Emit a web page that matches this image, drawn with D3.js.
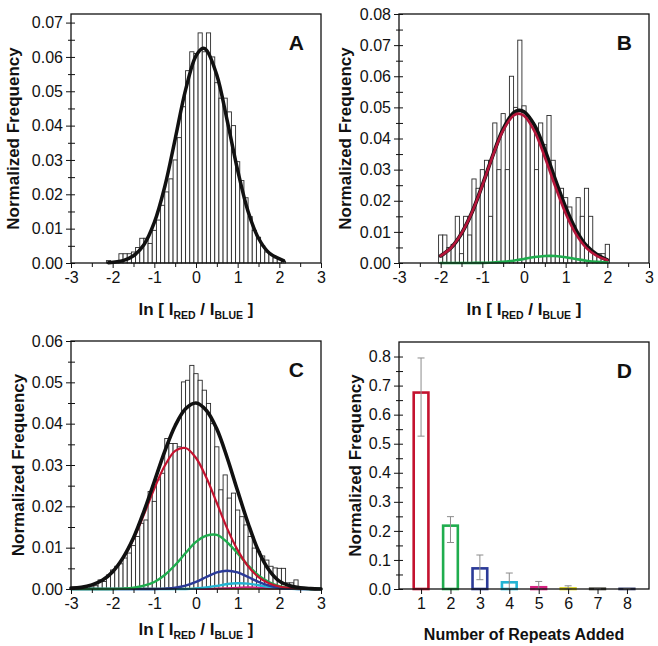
<!DOCTYPE html>
<html>
<head>
<meta charset="utf-8">
<script src="https://cdn.jsdelivr.net/npm/d3@7"></script>
<style>
  body { margin: 0; background: #fff; }
  svg { display: block; font-family: "Liberation Sans", Arial, sans-serif; }
</style>
</head>
<body>
<svg id="fig"></svg>
<script>
// ---- data ----
const binWidth = 0.1;

// panel A histogram, bins centred from -2.1 to 2.1
const binStartA = -2.1;
const freqA = [0.0007, 0.0004, 0.0004, 0.0027, 0.0027, 0.0027, 0.0032, 0.0045, 0.0072, 0.0072,
  0.0057, 0.0095, 0.0125, 0.0168, 0.0207, 0.0245, 0.0300, 0.0365, 0.0455, 0.0560,
  0.0615, 0.0610, 0.0670, 0.0615, 0.0670, 0.0600, 0.0525, 0.0480, 0.0480, 0.0440,
  0.0400, 0.0295, 0.0240, 0.0190, 0.0135, 0.0095, 0.0075, 0.0050, 0.0032, 0.0025,
  0.0015, 0.0010, 0.0005];
const fitXA = [-2.1, -1.75, -1.5, -1.25, -1, -0.75, -0.5, -0.25, 0, 0.17, 0.25, 0.5, 0.75, 1, 1.25, 1.5, 1.75, 2.1];
const fitA = [0.0001, 0.0007, 0.0021, 0.0053, 0.0118, 0.0222, 0.0361, 0.0504, 0.0603, 0.0625,
  0.0620, 0.0547, 0.0414, 0.0270, 0.0150, 0.0072, 0.0030, 0.0007];

// panel B histogram, bins centred from -2.0 to 2.0
const binStartB = -2.0;
const freqB = [0.009, 0.009, 0.005, 0.006, 0.015, 0.003, 0.015, 0.009, 0.027, 0.024,
  0.030, 0.033, 0.015, 0.045, 0.030, 0.048, 0.030, 0.060, 0.050, 0.0716,
  0.0505, 0.047, 0.045, 0.030, 0.045, 0.038, 0.0474, 0.033, 0.024, 0.024,
  0.021, 0.018, 0.012, 0.021, 0.015, 0.024, 0.015, 0.003, 0.003, 0.003, 0.006];
const fitXB = [-2, -1.75, -1.5, -1.25, -1, -0.75, -0.5, -0.25, -0.13, 0, 0.25, 0.5, 0.75, 1, 1.25, 1.5, 1.75, 2];
const fitB = [0.0023, 0.0049, 0.0095, 0.0162, 0.0250, 0.0345, 0.0430, 0.0482, 0.0490, 0.0486,
  0.0443, 0.0363, 0.0268, 0.0178, 0.0105, 0.0055, 0.0027, 0.0010];
const redB = [0.0023, 0.0049, 0.0095, 0.0162, 0.0249, 0.0344, 0.0426, 0.0474, 0.0480, 0.0473,
  0.0424, 0.0340, 0.0246, 0.0159, 0.0092, 0.0048, 0.0023, 0.0009];
const greenB = [0, 0, 0, 0.00002, 0.00005, 0.00015, 0.00036, 0.00075, 0.0010, 0.0013,
  0.0019, 0.00225, 0.00224, 0.00186, 0.00127, 0.00073, 0.00035, 0.00014];

// panel C histogram, bins centred from -2.5 to 2.5
const binStartC = -2.5;
const freqC = [0.0005, 0.0008, 0.0022, 0.0018, 0.0034, 0.0046, 0.0055, 0.0061, 0.0075, 0.0087,
  0.0105, 0.0127, 0.0159, 0.0167, 0.0236, 0.0212, 0.0264, 0.0280, 0.0364, 0.0352,
  0.0352, 0.0344, 0.0501, 0.0505, 0.0541, 0.0521, 0.0505, 0.0481, 0.0449, 0.0400,
  0.0344, 0.0240, 0.0276, 0.0220, 0.0232, 0.0191, 0.0175, 0.0155, 0.0127, 0.0099,
  0.0091, 0.0080, 0.0070, 0.0055, 0.0051, 0.0050, 0.0050, 0.0015, 0.0015, 0.0022, 0.0003];
const fitXC = [-3, -2.75, -2.5, -2.25, -2, -1.75, -1.5, -1.25, -1, -0.75, -0.5, -0.25, 0,
  0.25, 0.5, 0.75, 1, 1.25, 1.5, 1.75, 2, 2.25, 2.5, 2.75, 3];
const fitC = [0.0002, 0.0004, 0.0010, 0.0021, 0.0042, 0.0076, 0.0124, 0.0188, 0.0260, 0.0333,
  0.0395, 0.0436, 0.0450, 0.0432, 0.0387, 0.0317, 0.0237, 0.0159, 0.0092, 0.0046,
  0.0019, 0.0008, 0.0003, 0.0001, 0];
const redC = [0.0002, 0.0004, 0.0010, 0.0021, 0.0042, 0.0075, 0.0121, 0.0180, 0.0243, 0.0298,
  0.0334, 0.0341, 0.0317, 0.0269, 0.0208, 0.0146, 0.0094, 0.0055, 0.0029, 0.0014,
  0.0006, 0.00025, 0.0001, 0, 0];
const greenC = [0, 0, 0, 0, 0, 0.0001, 0.0003, 0.0008, 0.0017, 0.0034,
  0.0058, 0.0087, 0.0114, 0.0129, 0.0131, 0.0113, 0.0086, 0.0057, 0.0033, 0.0017,
  0.0007, 0.0003, 0.0001, 0, 0];
const blueC = [0, 0, 0, 0, 0, 0, 0, 0, 0, 0.0001,
  0.0003, 0.0008, 0.0017, 0.0029, 0.0040, 0.0044, 0.0040, 0.0029, 0.0017, 0.0008,
  0.0003, 0.0001, 0, 0, 0];
const cyanC = [0, 0, 0, 0, 0, 0, 0, 0, 0, 0,
  0, 0, 0.00015, 0.0004, 0.00076, 0.0012, 0.0014, 0.0013, 0.0009, 0.0005,
  0.00023, 0.0001, 0, 0, 0];
const magentaC = [0, 0, 0, 0, 0, 0, 0, 0, 0, 0,
  0, 0, 0, 0, 0.0001, 0.0002, 0.0003, 0.0004, 0.0003, 0.0002,
  0.0001, 0, 0, 0, 0];
const yellowC = [0, 0, 0.00005, 0.00005, 0.00005, 0.00005, 0.00005, 0.00005, 0.00005, 0.00005,
  0.00005, 0.00005, 0.00005, 0.00005, 0.00005, 0.00005, 0.00005, 0.00005, 0.00005, 0.00005,
  0.00005, 0.00005, 0.00005, 0.00005, 0.00005];

// panel D
const repeats = [1, 2, 3, 4, 5, 6, 7, 8];
const repeatFreq = [0.676, 0.218, 0.071, 0.023, 0.006, 0.002, 0.001, 0.0005];
const errHigh = [0.795, 0.249, 0.117, 0.055, 0.026, 0.011, 0.003, 0.001];
const errLow = [0.526, 0.160, 0.032, 0.000, 0.000, 0.000, 0.000, 0.000];
const repeatColors = ["#c4122f", "#1fad4e", "#2b3a98", "#22b4d4", "#d4217f", "#d6cf1e", "#3a3a30", "#2c3566"];

// tick labels
const xTicksHist = [-3, -2, -1, 0, 1, 2, 3];
const yTicksA = [0, 0.01, 0.02, 0.03, 0.04, 0.05, 0.06, 0.07];
const yTicksB = [0, 0.01, 0.02, 0.03, 0.04, 0.05, 0.06, 0.07, 0.08];
const yTicksC = [0, 0.01, 0.02, 0.03, 0.04, 0.05, 0.06];
const yTicksD = [0, 0.1, 0.2, 0.3, 0.4, 0.5, 0.6, 0.7, 0.8];

// ---- drawing ----
const FONT = "Liberation Sans, Arial, sans-serif";
const svg = d3.select("#fig").attr("width", 658).attr("height", 646);

const boxA = { left: 71, right: 321, top: 14, bottom: 263 };
const boxB = { left: 399, right: 649, top: 14, bottom: 263 };
const boxC = { left: 71, right: 321, top: 341, bottom: 589 };
const boxD = { left: 399, right: 649, top: 342, bottom: 589 };

function midpoints(arr) {
  return arr.slice(1).map((v, i) => (v + arr[i]) / 2);
}

function styleAxis(g) {
  g.select(".domain").remove();
  g.attr("color", "#111").attr("font-size", 16).attr("font-family", FONT);
  g.selectAll("line").attr("stroke-width", 1);
}

function drawAxes(box, x, y, xMajor, xMinor, yMajor, yFmt) {
  const yMinor = midpoints(yMajor);
  svg.append("g").attr("transform", `translate(${box.left},0)`)
    .call(d3.axisLeft(y).tickValues(yMajor).tickSize(5).tickPadding(3).tickFormat(yFmt))
    .call(styleAxis);
  svg.append("g").attr("transform", `translate(${box.left},0)`)
    .call(d3.axisLeft(y).tickValues(yMinor).tickSize(3).tickFormat(""))
    .call(styleAxis);
  svg.append("g").attr("transform", `translate(${box.left},0)`)
    .call(d3.axisRight(y).tickValues(yMajor.concat(yMinor)).tickSize(4).tickFormat(""))
    .call(styleAxis);

  svg.append("g").attr("transform", `translate(0,${box.bottom})`)
    .call(d3.axisBottom(x).tickValues(xMajor).tickSize(5).tickPadding(4).tickFormat(d => String(d)))
    .call(styleAxis);
  if (xMinor.length) {
    svg.append("g").attr("transform", `translate(0,${box.bottom})`)
      .call(d3.axisBottom(x).tickValues(xMinor).tickSize(4).tickFormat(""))
      .call(styleAxis);
  }

  svg.append("rect")
    .attr("x", box.left).attr("y", box.top)
    .attr("width", box.right - box.left).attr("height", box.bottom - box.top)
    .attr("fill", "none").attr("stroke", "#111").attr("stroke-width", 1.3);
}

function drawLetter(box, letter) {
  svg.append("text")
    .attr("x", box.right - 17).attr("y", box.top + 36)
    .attr("text-anchor", "end")
    .attr("font-size", 21).attr("font-weight", "bold").attr("fill", "#111")
    .text(letter);
}

function drawYLabel(box, xPos) {
  svg.append("text")
    .attr("transform", `translate(${xPos},${(box.top + box.bottom) / 2}) rotate(-90)`)
    .attr("text-anchor", "middle")
    .attr("font-size", 17).attr("font-weight", "bold").attr("fill", "#111")
    .text("Normalized Frequency");
}

function drawRatioLabel(box, yPos) {
  const t = svg.append("text")
    .attr("x", (box.left + box.right) / 2).attr("y", yPos)
    .attr("text-anchor", "middle")
    .attr("font-size", 17).attr("font-weight", "bold").attr("fill", "#111");
  t.append("tspan").text("ln [ I");
  t.append("tspan").attr("dy", 4).attr("font-size", 10.5).text("RED");
  t.append("tspan").attr("dy", -4).text(" / I");
  t.append("tspan").attr("dy", 4).attr("font-size", 10.5).text("BLUE");
  t.append("tspan").attr("dy", -4).text(" ]");
}

function drawHistogram(box, yMax, binStart, freq, curves) {
  const x = d3.scaleLinear().domain([-3, 3]).range([box.left, box.right]);
  const y = d3.scaleLinear().domain([0, yMax]).range([box.bottom, box.top]);
  const bins = freq.map((v, i) => ({ c: binStart + i * binWidth, v: v }));

  svg.append("g").selectAll("rect").data(bins).join("rect")
    .attr("x", d => x(d.c - binWidth / 2))
    .attr("width", d => x(d.c + binWidth / 2) - x(d.c - binWidth / 2))
    .attr("y", d => y(d.v))
    .attr("height", d => y(0) - y(d.v))
    .attr("fill", "#fff").attr("stroke", "#2a2a2a").attr("stroke-width", 0.9);

  const line = d3.line()
    .x(d => x(d[0])).y(d => y(d[1]))
    .curve(d3.curveCatmullRom.alpha(0.5));

  curves.forEach(c => {
    svg.append("path")
      .datum(c.xs.map((xv, i) => [xv, c.ys[i]]))
      .attr("d", line)
      .attr("fill", "none").attr("stroke", c.color).attr("stroke-width", c.width)
      .attr("stroke-linejoin", "round").attr("stroke-linecap", "round");
  });
  return { x, y };
}

// Panel A
let s = drawHistogram(boxA, 0.0725, binStartA, freqA, [
  { xs: fitXA, ys: fitA, color: "#111", width: 3.5 }
]);
drawAxes(boxA, s.x, s.y, xTicksHist, midpoints(xTicksHist), yTicksA, d3.format(".2f"));
drawLetter(boxA, "A");
drawYLabel(boxA, 19);
drawRatioLabel(boxA, 315);

// Panel B
s = drawHistogram(boxB, 0.08, binStartB, freqB, [
  { xs: fitXB, ys: fitB, color: "#111", width: 3.8 },
  { xs: fitXB, ys: redB, color: "#b5153a", width: 2.6 },
  { xs: fitXB, ys: greenB, color: "#1fad4e", width: 2.6 }
]);
drawAxes(boxB, s.x, s.y, xTicksHist, midpoints(xTicksHist), yTicksB, d3.format(".2f"));
drawLetter(boxB, "B");
drawYLabel(boxB, 351);
drawRatioLabel(boxB, 315);

// Panel C
s = drawHistogram(boxC, 0.06, binStartC, freqC, [
  { xs: fitXC, ys: yellowC, color: "#d9b829", width: 2 },
  { xs: fitXC, ys: magentaC, color: "#d4217f", width: 2 },
  { xs: fitXC, ys: cyanC, color: "#22b4d4", width: 2.4 },
  { xs: fitXC, ys: blueC, color: "#2b3a98", width: 2.4 },
  { xs: fitXC, ys: greenC, color: "#1fad4e", width: 2.4 },
  { xs: fitXC, ys: redC, color: "#c4122f", width: 2.2 },
  { xs: fitXC, ys: fitC, color: "#111", width: 3.6 }
]);
drawAxes(boxC, s.x, s.y, xTicksHist, midpoints(xTicksHist), yTicksC, d3.format(".2f"));
drawLetter(boxC, "C");
drawYLabel(boxC, 24);
drawRatioLabel(boxC, 635);

// Panel D
const xD = d3.scaleLinear().domain([0.25, 8.75]).range([boxD.left, boxD.right]);
const yD = d3.scaleLinear().domain([0, 0.85]).range([boxD.bottom, boxD.top]);
const barHalf = 0.25;

svg.append("g").selectAll("rect").data(repeats).join("rect")
  .attr("x", (d, i) => xD(d - barHalf))
  .attr("width", d => xD(d + barHalf) - xD(d - barHalf))
  .attr("y", (d, i) => yD(repeatFreq[i]))
  .attr("height", (d, i) => yD(0) - yD(repeatFreq[i]))
  .attr("fill", "#fff")
  .attr("stroke", (d, i) => repeatColors[i])
  .attr("stroke-width", 2.6);

const errG = svg.append("g").attr("stroke", "#8c8c8c").attr("stroke-width", 1);
repeats.forEach((r, i) => {
  const cx = xD(r);
  errG.append("line").attr("x1", cx).attr("x2", cx).attr("y1", yD(errLow[i])).attr("y2", yD(errHigh[i]));
  errG.append("line").attr("x1", cx - 3.5).attr("x2", cx + 3.5).attr("y1", yD(errHigh[i])).attr("y2", yD(errHigh[i]));
  errG.append("line").attr("x1", cx - 3.5).attr("x2", cx + 3.5).attr("y1", yD(errLow[i])).attr("y2", yD(errLow[i]));
});

drawAxes(boxD, xD, yD, repeats, [], yTicksD, d3.format(".1f"));
drawLetter(boxD, "D");
drawYLabel(boxD, 361);
svg.append("text")
  .attr("x", (boxD.left + boxD.right) / 2).attr("y", 640)
  .attr("text-anchor", "middle")
  .attr("font-size", 16).attr("font-weight", "bold").attr("fill", "#111")
  .text("Number of Repeats Added");
</script>
</body>
</html>
